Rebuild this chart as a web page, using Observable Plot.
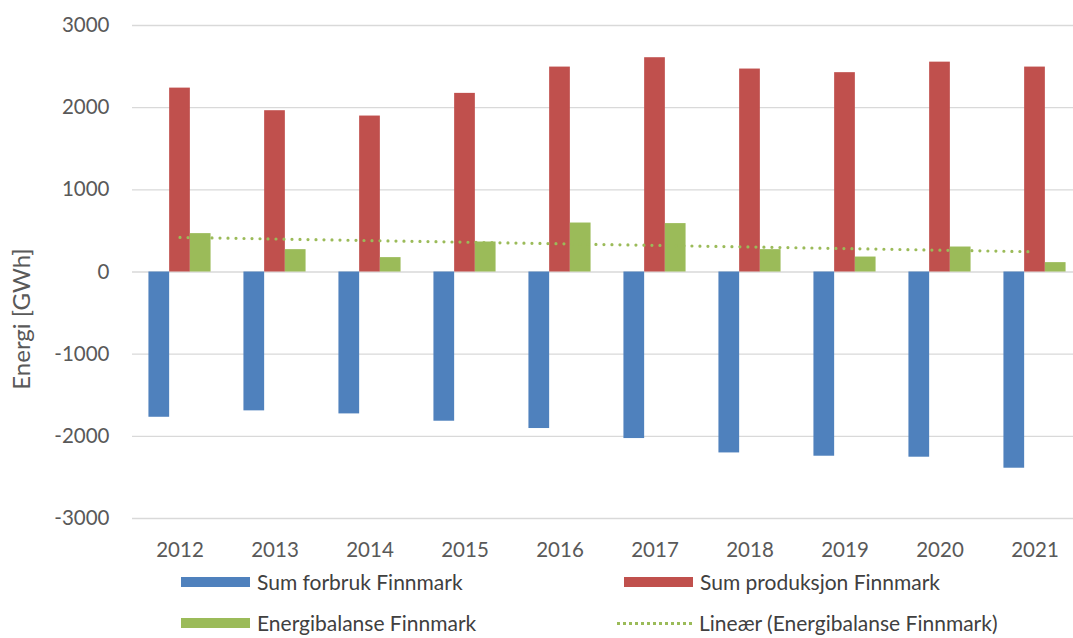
<!DOCTYPE html>
<html>
<head>
<meta charset="utf-8">
<script src="https://cdn.jsdelivr.net/npm/d3@7"></script>
<script src="https://cdn.jsdelivr.net/npm/@observablehq/plot@0.6"></script>
<style>
  html, body { margin: 0; padding: 0; background: #fff; overflow: hidden; }
  #wrap { position: relative; width: 1073px; height: 638px; font-family: Lato, "Open Sans", sans-serif; color: #595959; }
  .leg { position: absolute; display: flex; align-items: center; font-size: 21px; line-height: 24px; color: #404040; white-space: nowrap; }
  .sw { width: 69px; height: 10px; margin-right: 7px; }
  .dl { width: 75px; height: 0; border-top: 3px dotted #9BBB59; margin-right: 7px; }
</style>
</head>
<body>
<div id="wrap"><div id="chart"></div></div>
<script>
const years = [2012, 2013, 2014, 2015, 2016, 2017, 2018, 2019, 2020, 2021];
const forbruk = [-1768, -1690, -1727, -1816, -1905, -2027, -2202, -2242, -2254, -2388];
const produksjon = [2238, 1963, 1898, 2174, 2494, 2608, 2470, 2426, 2554, 2494];
const balanse = [467, 272, 175, 365, 596, 589, 272, 182, 304, 114];
const seriesNames = ["Sum forbruk Finnmark", "Sum produksjon Finnmark", "Energibalanse Finnmark"];
const trendName = "Lineær (Energibalanse Finnmark)";
const yTicks = [-3000, -2000, -1000, 0, 1000, 2000, 3000];
const colors = ["#4F81BD", "#C0504D", "#9BBB59"];

const seriesValues = [forbruk, produksjon, balanse];
const barW = 0.218;
const rows = [];
seriesValues.forEach((vals, si) => {
  vals.forEach((v, i) => rows.push({year: years[i], value: v, series: seriesNames[si], idx: si}));
});
const balRows = years.map((y, i) => ({year: y, value: balanse[i]}));

const chart = Plot.plot({
  width: 1073,
  height: 565,
  marginLeft: 132,
  marginRight: -9,
  marginTop: 25,
  marginBottom: 47,
  style: {fontFamily: "Lato, 'Open Sans', sans-serif", fontSize: "20.5px", color: "#595959", background: "transparent"},
  x: {domain: [2011.5, 2021.5], label: null},
  y: {domain: [-3000, 3000], label: null},
  color: {domain: seriesNames, range: colors},
  marks: [
    Plot.gridY(yTicks, {stroke: "#d9d9d9", strokeOpacity: 1, strokeWidth: 1.4}),
    Plot.rectY(rows, {
      x1: d => d.year + (d.idx - 1.5) * barW,
      x2: d => d.year + (d.idx - 0.5) * barW,
      y1: 0,
      y2: "value",
      fill: "series"
    }),
    Plot.linearRegressionY(balRows, {
      x: "year", y: "value", ci: 0,
      stroke: "#9BBB59", strokeWidth: 3.2, strokeDasharray: "0 8", strokeLinecap: "round"
    }),
    Plot.axisX(years, {tickSize: 0, tickPadding: 24, tickFormat: d => String(d), fill: "#595959"}),
    Plot.axisY(yTicks, {tickSize: 0, tickPadding: 23, tickFormat: d => String(d), fill: "#595959"}),
    Plot.text(["Energi [GWh]"], {frameAnchor: "left", textAnchor: "middle", rotate: -90, dx: -110, dy: 47, fontSize: 24, fill: "#595959"})
  ]
});
document.getElementById("chart").appendChild(chart);

const wrap = document.getElementById("wrap");
const legendItems = [
  {name: seriesNames[0], color: colors[0], left: 181, top: 582, type: "bar"},
  {name: seriesNames[1], color: colors[1], left: 624, top: 582, type: "bar"},
  {name: seriesNames[2], color: colors[2], left: 181, top: 623, type: "bar"},
  {name: trendName, color: colors[2], left: 617, top: 623, type: "line"}
];
legendItems.forEach(it => {
  const el = document.createElement("div");
  el.className = "leg";
  el.style.left = it.left + "px";
  el.style.top = (it.top - 12) + "px";
  el.style.height = "24px";
  const sw = document.createElement("div");
  if (it.type === "bar") { sw.className = "sw"; sw.style.background = it.color; }
  else { sw.className = "dl"; }
  el.appendChild(sw);
  const t = document.createElement("span");
  t.textContent = it.name;
  el.appendChild(t);
  wrap.appendChild(el);
});
</script>
</body>
</html>
